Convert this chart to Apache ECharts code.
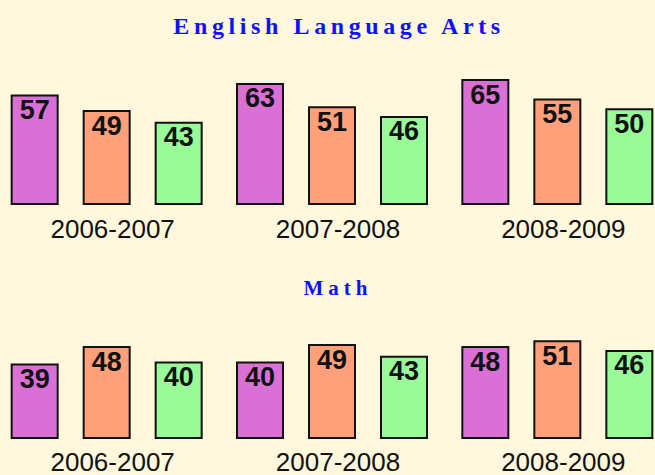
<!DOCTYPE html>
<html>
<head>
<meta charset="utf-8">
<script src="https://cdn.jsdelivr.net/npm/echarts@6/dist/echarts.min.js"></script>
<style>
  html, body { margin: 0; padding: 0; background: #fff8dc; }
  #chart { width: 655px; height: 475px; }
</style>
</head>
<body>
<div id="chart"></div>
<script>
var categories = ["2006-2007", "2007-2008", "2008-2009"];

var elaPurple = [57, 63, 65];
var elaOrange = [49, 51, 55];
var elaGreen = [43, 46, 50];

var mathPurple = [39, 40, 48];
var mathOrange = [48, 49, 51];
var mathGreen = [40, 43, 46];

var colors = ["#da70d6", "#ffa07a", "#98fb98"];

function barSeries(name, data, idx, color) {
  return {
    name: name,
    type: "bar",
    xAxisIndex: idx,
    yAxisIndex: idx,
    data: data,
    barWidth: 48,
    barGap: "50%",
    itemStyle: {
      color: color,
      borderColor: "#111",
      borderWidth: 2
    },
    label: {
      show: true,
      position: "insideTop",
      distance: 2,
      color: "#111",
      fontSize: 27,
      fontWeight: "bold",
      fontFamily: "Liberation Sans, Arial, sans-serif"
    }
  };
}

function xAxis(idx, margin) {
  return {
    type: "category",
    gridIndex: idx,
    data: categories,
    axisLine: { show: false },
    axisTick: { show: false },
    axisLabel: {
      margin: margin,
      color: "#111",
      fontSize: 26,
      fontFamily: "Liberation Sans, Arial, sans-serif",
      padding: [0, 0, 0, 12]
    }
  };
}

function yAxis(idx) {
  return {
    type: "value",
    gridIndex: idx,
    min: 0,
    max: 80,
    show: false,
    splitLine: { show: false }
  };
}

function titleStyle(size) {
  return {
    color: "#1010ff",
    fontSize: size,
    fontWeight: "bold",
    fontFamily: "Liberation Serif, Times New Roman, serif"
  };
}

var chart = echarts.init(document.getElementById("chart"), null, { renderer: "svg" });
chart.setOption({
  backgroundColor: "#fff8dc",
  animation: false,
  title: [
    { text: "English Language Arts", left: 339, top: 14, textAlign: "center", padding: 0, textStyle: titleStyle(24) },
    { text: "Math", left: 338, top: 277, textAlign: "center", padding: 0, textStyle: titleStyle(21) }
  ],
  grid: [
    { left: -6, right: -15, top: 50, height: 155, containLabel: false, outerBoundsMode: "none" },
    { left: -6, right: -15, top: 284, height: 155, containLabel: false, outerBoundsMode: "none" }
  ],
  xAxis: [xAxis(0, 11), xAxis(1, 10)],
  yAxis: [yAxis(0), yAxis(1)],
  series: [
    barSeries("Series 1", elaPurple, 0, colors[0]),
    barSeries("Series 2", elaOrange, 0, colors[1]),
    barSeries("Series 3", elaGreen, 0, colors[2]),
    barSeries("Series 1", mathPurple, 1, colors[0]),
    barSeries("Series 2", mathOrange, 1, colors[1]),
    barSeries("Series 3", mathGreen, 1, colors[2])
  ]
});

// spaced-out titles (svg text letter-spacing)
var titleSpacing = { "English Language Arts": "4.6px", "Math": "5px" };
function spaceTitles() {
  var texts = document.querySelectorAll("#chart text");
  texts.forEach(function (t) {
    var s = titleSpacing[t.textContent];
    if (s) t.style.letterSpacing = s;
  });
}
spaceTitles();
chart.on("finished", spaceTitles);
</script>
</body>
</html>
